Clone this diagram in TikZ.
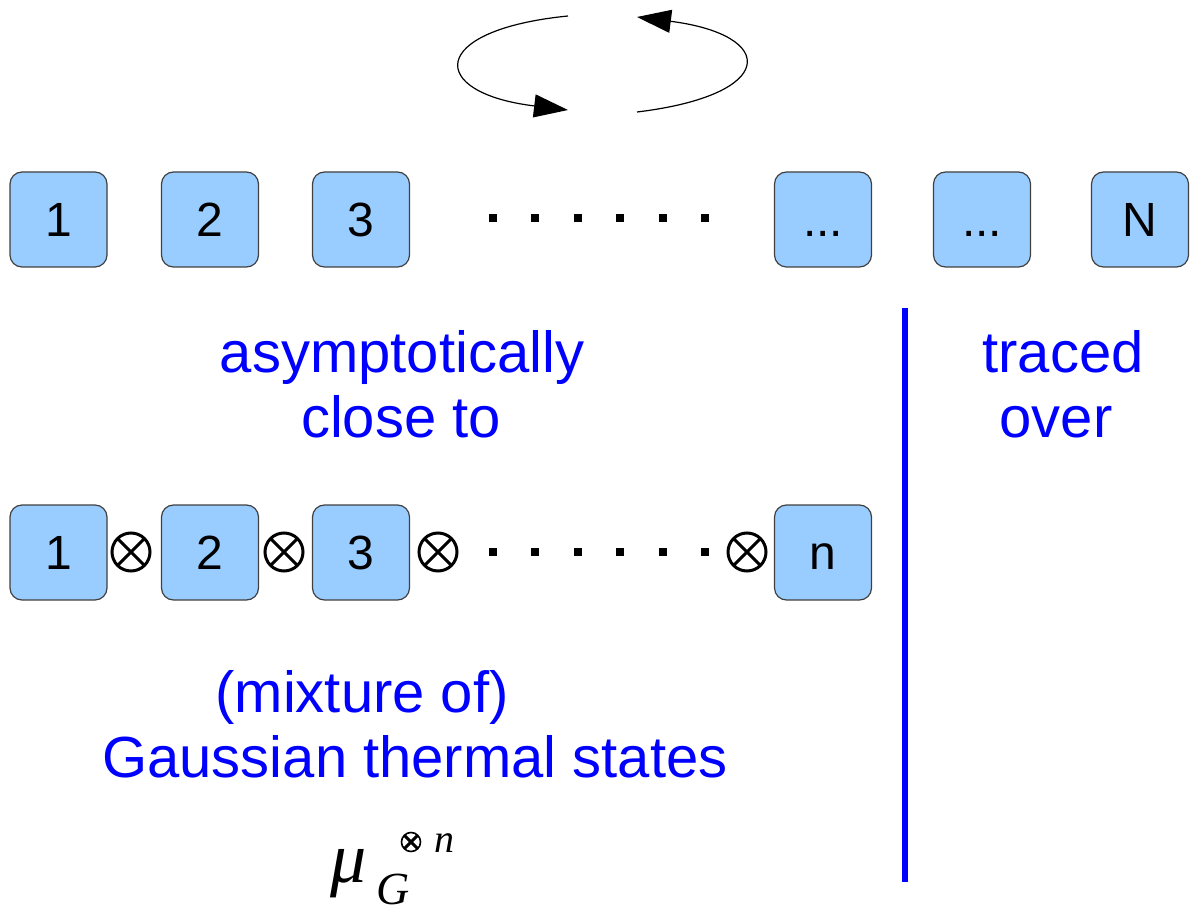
\documentclass[tikz,border=0pt]{standalone}
\usepackage{fontspec}
\setmainfont{Liberation Sans}
\newfontfamily\timesfont{Liberation Serif}
\usetikzlibrary{arrows.meta}
\definecolor{cellblue}{HTML}{99CCFF}

\begin{document}
\begin{tikzpicture}[x=0.5pt, y=-0.5pt,
  cell/.style={draw=black!75, line width=0.6pt, fill=cellblue, rounded corners=6pt,
    minimum width=48.5pt, minimum height=47.5pt, inner sep=0pt,
    text height=17pt, text depth=0pt, font=\fontsize{24}{24}\selectfont},
  otimes/.style={circle, draw, line width=1.5pt, minimum size=19pt, inner sep=0pt,
    path picture={\draw[line width=1.5pt] (path picture bounding box.north west) -- (path picture bounding box.south east)
      (path picture bounding box.north east) -- (path picture bounding box.south west);}},
  note/.style={text=blue, anchor=base, inner sep=0pt, font=\fontsize{29}{29}\selectfont},
  turn/.style={line width=0.6pt, -{Triangle[length=17pt, width=11.5pt]}}]
\useasboundingbox (0,0) rectangle (1198,914);

% exchange of sites
\coordinate (l0) at (568,16);
\coordinate (l1) at (568,110);
\coordinate (r0) at (637,112);
\coordinate (r1) at (637,17);
\draw[turn] (l0) .. controls (427,30) and (427,93) .. (l1);
\draw[turn] (r0) .. controls (778,95) and (778,35) .. (r1);

% all N sites
\node[cell] (s1) at (58.5,219.5) {1};
\node[cell] (s2) at (210,219.5) {2};
\node[cell] (s3) at (361,219.5) {3};
\node[cell] (sa) at (823,219.5) {...};
\node[cell] (sb) at (982,219.5) {...};
\node[cell] (sN) at (1140,219.5) {N};
\foreach \i in {0,...,5}
  \fill (493+42.4*\i-4,214) rectangle ++(8,8);

% first n sites as a product
\node[cell] (p1) at (58.5,552.5) {1};
\node[otimes] (t1) at (131,552) {};
\node[cell] (p2) at (210,552.5) {2};
\node[otimes] (t2) at (284,552) {};
\node[cell] (p3) at (361,552.5) {3};
\node[otimes] (t3) at (438,552) {};
\node[otimes] (t4) at (747,552) {};
\node[cell] (pn) at (823,552.5) {n};
\foreach \i in {0,...,5}
  \fill (493+42.4*\i-4,548) rectangle ++(8,8);

% cut
\draw[blue, line width=3pt] (905,308) -- (905,882);

\node[note] (asym) at (402,372) {asymptotically};
\node[note] (close) at (401,437) {close to};
\node[note] (traced) at (1063,372) {traced};
\node[note] (over) at (1056,437) {over};
\node[note] (mix) at (362,712) {(mixture of)};
\node[note] (gauss) at (415,777) {Gaussian thermal states};

\node[anchor=base west, inner sep=0pt, font=\timesfont\itshape\fontsize{36}{36}\selectfont] (mu) at (330,882) {μ};
\node[anchor=base west, inner sep=0pt, font=\timesfont\itshape\fontsize{23}{23}\selectfont] (muG) at (376,904) {G};
\node[otimes, minimum size=9.5pt, line width=0.8pt] (muO) at (411,842) {};
\node[anchor=base west, inner sep=0pt, font=\timesfont\itshape\fontsize{20}{20}\selectfont] (mun) at (434,852) {n};
\end{tikzpicture}
\end{document}
